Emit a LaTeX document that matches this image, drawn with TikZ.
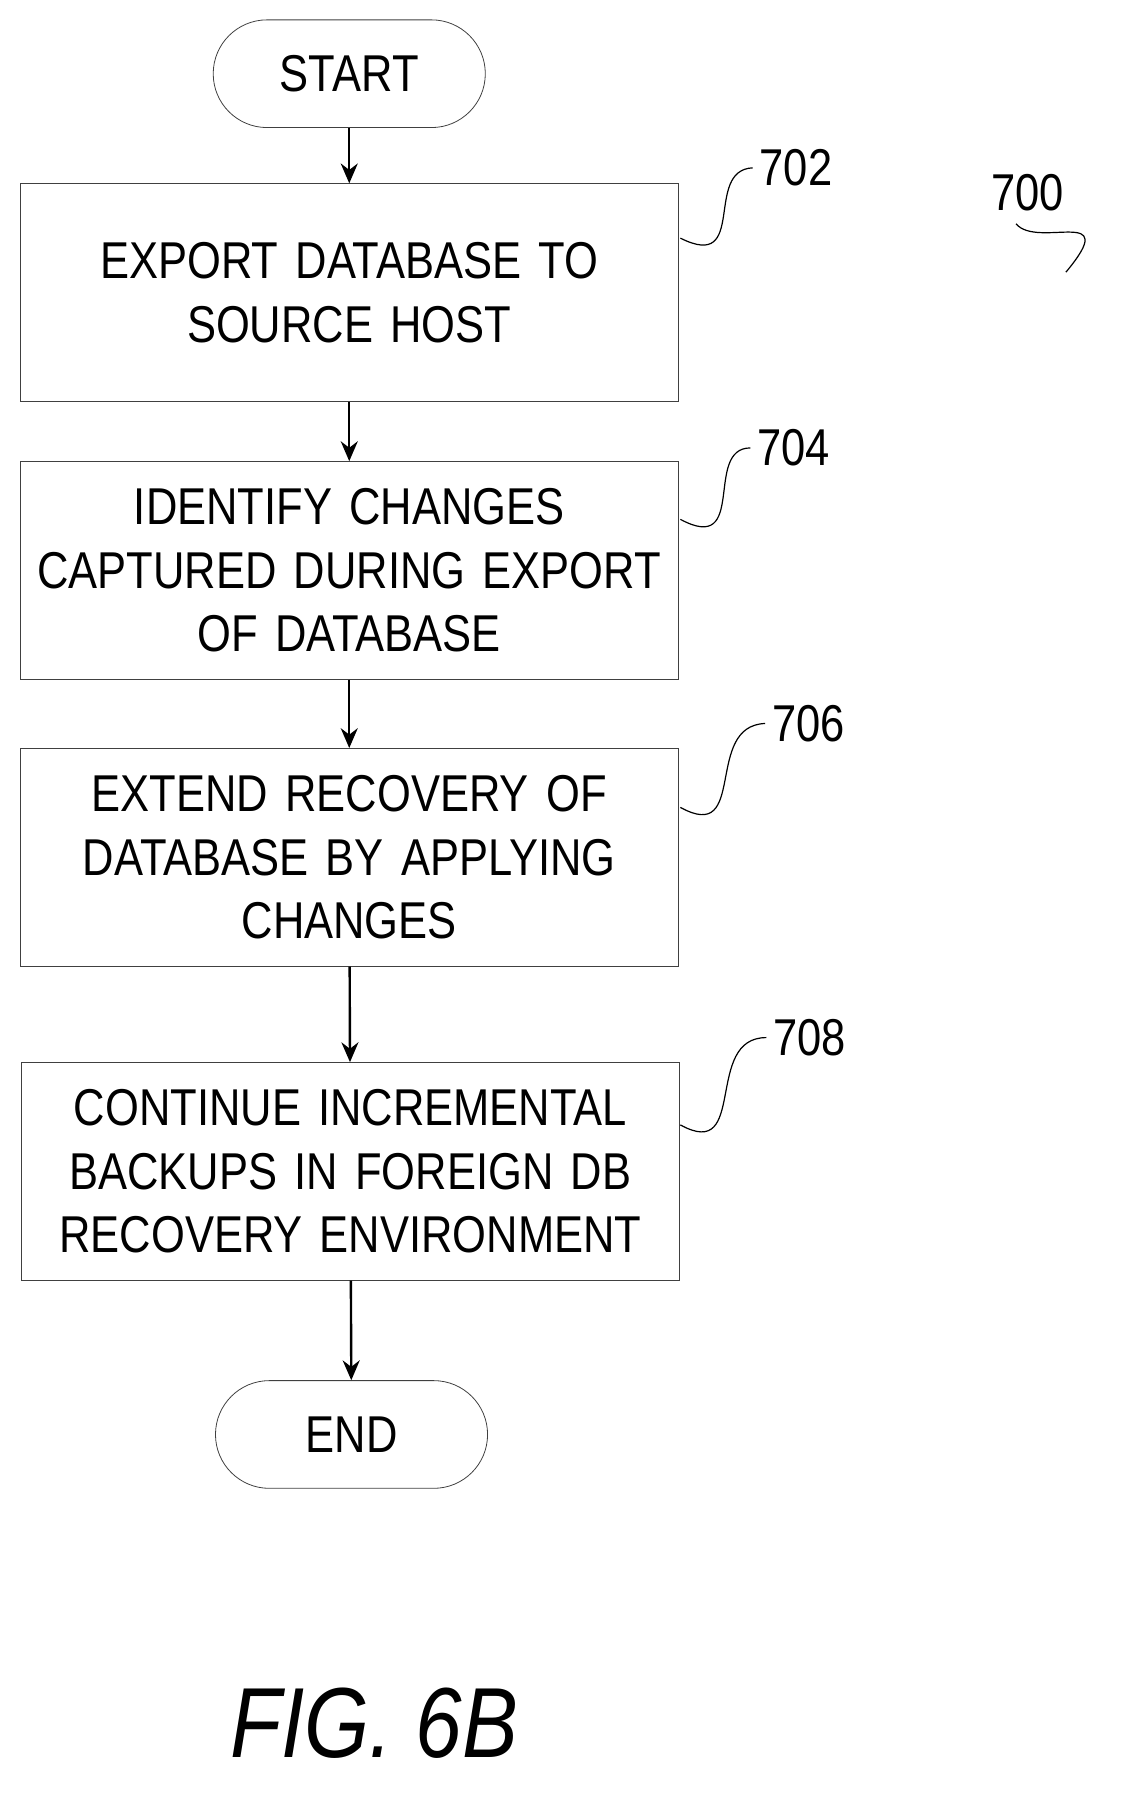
\documentclass[tikz,border=0pt]{standalone}
\usepackage{fontspec}
\setmainfont[FakeStretch=0.84]{Liberation Sans}
\usetikzlibrary{arrows.meta,positioning}
\tikzset{
  stage/.style={draw=black!75, thin, text width=11.2cm, minimum width=11.6cm, minimum height=3.84cm, align=center, font=\fontsize{26}{32}\selectfont},
  term/.style={draw=black!75, thin, rounded corners=0.95cm, minimum width=4.8cm, minimum height=1.9cm, font=\fontsize{26}{32}\selectfont},
  ref/.style={font=\fontsize{26}{32}\selectfont},
  flow/.style={-{Stealth[length=0.35cm,width=0.3cm]}, line width=1.2pt},
  lead/.style={line width=0.6pt}
}
\begin{document}
\begin{tikzpicture}[x=0.02cm,y=-0.02cm]
\useasboundingbox (0,0) rectangle (1000,1590);
\node[term] (start) at (308,65) {START};
\node[stage] (s702) at (308,258) {EXPORT DATABASE TO\\SOURCE HOST};
\node[stage] (s704) at (308,503) {IDENTIFY CHANGES\\CAPTURED DURING EXPORT\\OF DATABASE};
\node[stage] (s706) at (308,756) {EXTEND RECOVERY OF\\DATABASE BY APPLYING\\CHANGES};
\node[stage] (s708) at (309,1033) {CONTINUE INCREMENTAL\\BACKUPS IN FOREIGN DB\\RECOVERY ENVIRONMENT};
\node[term] (end) at (310,1265) {END};
% flow
\draw[flow] (start) -- (s702);
\draw[flow] (s702) -- (s704);
\draw[flow] (s704) -- (s706);
\draw[flow] (s706) -- (s708);
\draw[flow] (s708) -- (end);
% reference numerals
\node[ref] (n702) at (702,148) {702};
\node[ref] (n704) at (700,395) {704};
\node[ref] (n706) at (713,638) {706};
\node[ref] (n708) at (714,915) {708};
\node[ref] (n700) at (906,170) {700};
\coordinate (c702) at (600,210);
\coordinate (c704) at (600,458);
\coordinate (c706) at (600,712);
\coordinate (c708) at (600,992);
\coordinate (c700) at (940,240);
\draw[lead] (c702) .. controls (660,240) and (620,150) .. (n702.west);
\draw[lead] (c704) .. controls (660,490) and (620,395) .. (n704.west);
\draw[lead] (c706) .. controls (660,745) and (620,640) .. (n706.west);
\draw[lead] (c708) .. controls (660,1025) and (620,915) .. (n708.west);
\draw[lead] (n700.south) ++(-10,5) .. controls (915,220) and (990,180) .. (c700);
\node[font=\fontsize{50}{56}\selectfont\itshape] (fig) at (330,1520) {FIG. 6B};
\end{tikzpicture}
\end{document}
